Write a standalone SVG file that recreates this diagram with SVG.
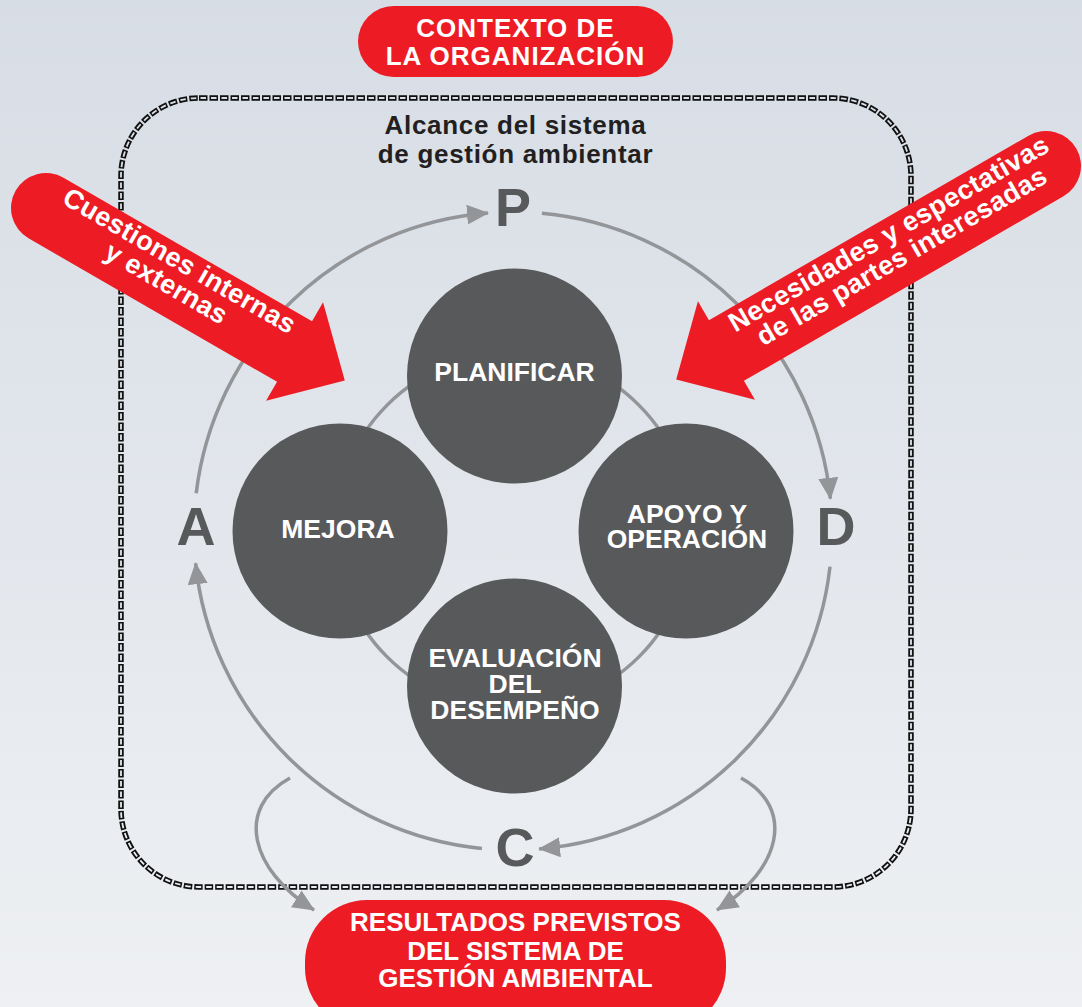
<svg xmlns="http://www.w3.org/2000/svg" width="1082" height="1007" viewBox="0 0 1082 1007">
  <defs>
    <linearGradient id="bg" gradientUnits="userSpaceOnUse" x1="0" y1="0" x2="0" y2="1007">
      <stop offset="0" stop-color="#d7dde5"/>
      <stop offset="1" stop-color="#eef0f3"/>
    </linearGradient>
    <marker id="ah" markerUnits="userSpaceOnUse" markerWidth="22" markerHeight="20" viewBox="0 0 22 20" refX="21" refY="10" orient="auto">
      <path d="M0,0 L22,10 L0,20 Z" fill="#939598"/>
    </marker>
    <style>
      .ring { fill: none; stroke: #939598; stroke-width: 3.5; }
      .arc { fill: none; stroke: #939598; stroke-width: 3.5; marker-end: url(#ah); }
      .node { fill: #58595b; }
      .ntext { font-family: "Liberation Sans", Arial, sans-serif; font-weight: bold; font-size: 26.5px; fill: #ffffff; text-anchor: middle; }
      .red { fill: #ed1c24; }
      .rtext { font-family: "Liberation Sans", Arial, sans-serif; font-weight: bold; font-size: 26px; fill: #ffffff; text-anchor: middle; }
      .atext { font-family: "Liberation Sans", Arial, sans-serif; font-weight: bold; font-size: 27px; fill: #ffffff; text-anchor: middle; letter-spacing: 0.3px; }
      .pdca { font-family: "Liberation Sans", Arial, sans-serif; font-weight: bold; font-size: 54px; fill: #58595b; text-anchor: middle; }
      .scope { font-family: "Liberation Sans", Arial, sans-serif; font-weight: bold; font-size: 26px; fill: #231f20; text-anchor: middle; letter-spacing: 0.7px; }
    </style>
  </defs>

  <rect x="0" y="0" width="1082" height="1007" fill="url(#bg)"/>

  <g id="scope-border">
    <rect x="121" y="98" width="790" height="789" rx="78" ry="78" fill="none" stroke="#111111" stroke-width="5.5" stroke-dasharray="8.5 2"/>
    <rect x="121" y="98" width="790" height="789" rx="78" ry="78" fill="none" stroke="url(#bg)" stroke-width="1.8" stroke-dasharray="5.5 5" stroke-dashoffset="-1.5"/>
    <text class="scope" x="515.5" y="134">Alcance del sistema</text>
    <text class="scope" x="515.5" y="163">de gestión ambientar</text>
  </g>

  <g id="connectors">
    <path class="arc" d="M196.2,493.2 A319,319 0 0 1 488,213"/>
    <path class="arc" d="M541.9,213.3 A319,319 0 0 1 830.4,498.8"/>
    <path class="arc" d="M830,566.6 A319,319 0 0 1 539.1,848.9"/>
    <path class="arc" d="M481.9,848.5 A319,319 0 0 1 195.6,563.2"/>
    <path class="arc" d="M290,778 C235,808 250,870 314,910"/>
    <path class="arc" d="M741,778 C796,808 781,870 717,910"/>
    <circle class="ring" cx="513" cy="531" r="178"/>
  </g>

  <g id="label-P"><text class="pdca" x="513" y="226">P</text></g>
  <g id="label-D"><text class="pdca" x="836" y="545">D</text></g>
  <g id="label-C"><text class="pdca" x="515" y="866">C</text></g>
  <g id="label-A"><text class="pdca" x="196" y="545">A</text></g>

  <g id="node-planificar">
    <circle class="node" cx="514.5" cy="376" r="107.5"/>
    <text class="ntext" x="514.5" y="381">PLANIFICAR</text>
  </g>
  <g id="node-mejora">
    <circle class="node" cx="340" cy="531" r="107.5"/>
    <text class="ntext" x="338" y="537.5">MEJORA</text>
  </g>
  <g id="node-apoyo">
    <circle class="node" cx="686" cy="531" r="107.5"/>
    <text class="ntext" x="687" y="522.5">APOYO Y</text>
    <text class="ntext" x="687" y="548">OPERACIÓN</text>
  </g>
  <g id="node-evaluacion">
    <circle class="node" cx="514.5" cy="686" r="107.5"/>
    <text class="ntext" x="515" y="667">EVALUACIÓN</text>
    <text class="ntext" x="515" y="693">DEL</text>
    <text class="ntext" x="515" y="719">DESEMPEÑO</text>
  </g>

  <g id="arrow-cuestiones">
    <path class="red" transform="translate(46,208) rotate(30)" d="M0,-35 H287 V-57 L345,0 L287,57 V35 H0 A35,35 0 0 1 0,-35 Z"/>
    <g transform="translate(46,208) rotate(30)">
      <text class="atext" x="142" y="-12">Cuestiones internas</text>
      <text class="atext" x="142" y="14">y externas</text>
    </g>
  </g>

  <g id="arrow-necesidades">
    <path class="red" transform="translate(1046,166) rotate(150)" d="M0,-35 H369 V-57 L427,0 L369,57 V35 H0 A35,35 0 0 1 0,-35 Z"/>
    <g transform="translate(1046,166) rotate(-30)">
      <text class="atext" x="-170" y="-11">Necesidades y espectativas</text>
      <text class="atext" x="-170" y="15">de las partes interesadas</text>
    </g>
  </g>

  <g id="node-contexto">
    <rect class="red" x="358" y="6" width="315" height="71" rx="35.5" ry="35.5"/>
    <text class="rtext" x="515.5" y="37" letter-spacing="1">CONTEXTO DE</text>
    <text class="rtext" x="515.5" y="65" letter-spacing="1">LA ORGANIZACIÓN</text>
  </g>

  <g id="node-resultados">
    <rect class="red" x="305" y="900" width="421" height="130" rx="62" ry="62"/>
    <text class="rtext" x="515.5" y="931">RESULTADOS PREVISTOS</text>
    <text class="rtext" x="515.5" y="960">DEL SISTEMA DE</text>
    <text class="rtext" x="515.5" y="987">GESTIÓN AMBIENTAL</text>
  </g>
</svg>
